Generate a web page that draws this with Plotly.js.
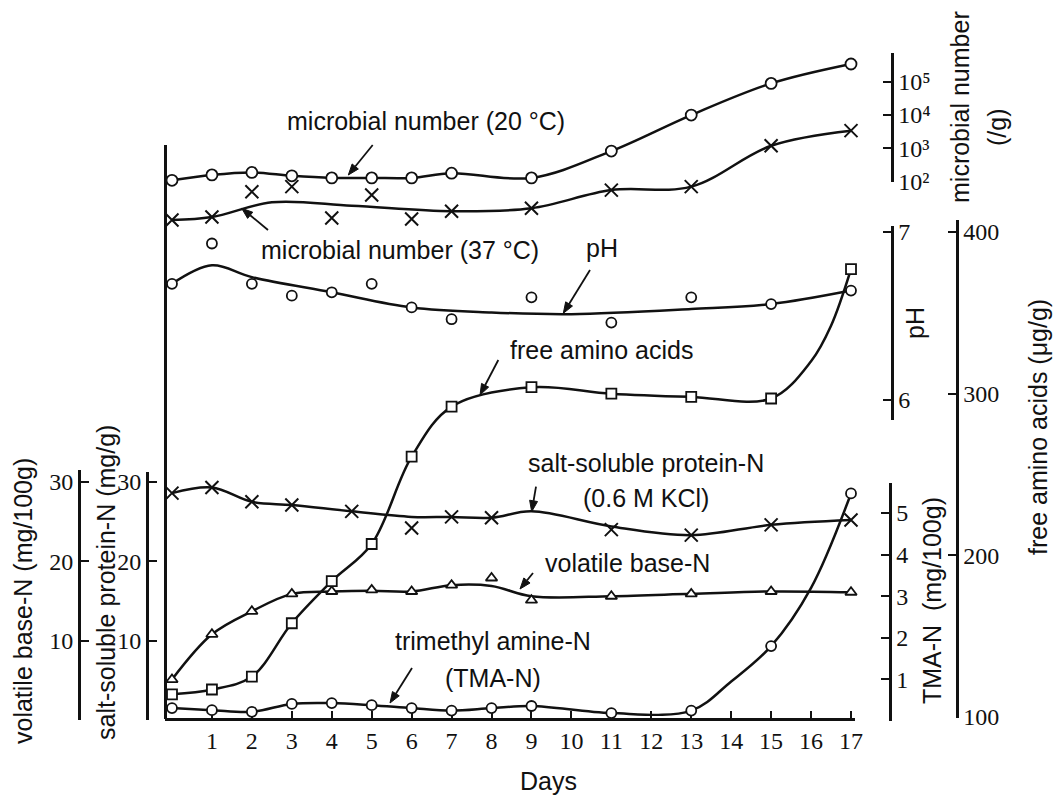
<!DOCTYPE html>
<html><head><meta charset="utf-8">
<script src="https://cdn.plot.ly/plotly-3.0.1.min.js"></script>
<style>html,body{margin:0;padding:0;background:#fff}</style>
</head><body>
<div id="chart" style="width:1056px;height:800px"></div>
<script>
// ---------------- data ----------------
const dayTicks = [1,2,3,4,5,6,7,8,9,10,11,12,13,14,15,16,17];

const mic20Days   = [0,1,2,3,4,5,6,7,9,11,13,15,17];
const mic20Values = [110,160,190,150,130,130,130,180,130,830,10000,89000,340000];

const mic37Days   = [0,1,2,3,4,5,6,7,9,11,13,15,17];
const mic37Values = [7.1,8.7,50,71,8.1,40,7.6,13,16,56,71,1200,3400];
const mic37CurveDays   = [0,1,2.5,4.5,7,9,11,13,15,17];
const mic37CurveValues = [7.1,8.7,24,19,13,16,56,71,1200,3400];
const micTickVals = [100,1000,10000,100000];
const micTickText = ['10\u00b2','10\u00b3','10\u2074','10\u2075'];

const phDays   = [0,1,2,3,4,5,6,7,9,11,13,15,17];
const phValues = [6.69,6.93,6.69,6.62,6.64,6.69,6.55,6.48,6.61,6.46,6.61,6.57,6.65];
const phCurveDays   = [0,1,2,4,6,8,10,13,15,17];
const phCurveValues = [6.69,6.80,6.73,6.64,6.55,6.52,6.51,6.54,6.57,6.65];
const phTickVals = [6,7];

const faaDays   = [0,1,2,3,4,5,6,7,9,11,13,15,17];
const faaValues = [114,117,125,158,184,207,261,292,304,300,298,297,377];
const faaCurveDays   = [0,1,2,3,4,5,6,7,9,11,13,15,16,16.5,17];
const faaCurveValues = [114,117,125,158,184,207,261,292,304,300,298,297,320,342,377];
const faaTickVals = [100,200,300,400];

const sspDays   = [0,1,2,3,4.5,6,7,8,11,13,15,17];
const sspValues = [28.6,29.3,27.5,27.1,26.3,24.2,25.6,25.5,24.0,23.3,24.6,25.2];
const sspCurveDays   = [0,1,2,3,4.5,6,7,8,9,11,13,15,17];
const sspCurveValues = [28.6,29.3,27.5,27.1,26.3,25.6,25.6,25.5,26.3,24.4,23.3,24.6,25.2];

const vbnDays   = [0,1,2,3,4,5,6,7,8,9,11,13,15,17];
const vbnValues = [5.1,10.8,13.7,15.9,16.2,16.4,16.2,17.0,17.9,15.1,15.6,15.9,16.2,16.1];
const vbnCurveDays   = [0,1,2,3,4,5,6,7,8,9,11,13,15,17];
const vbnCurveValues = [5.1,10.8,13.7,15.9,16.2,16.3,16.2,17.0,16.9,15.6,15.6,15.9,16.2,16.1];
const nTickVals = [10,20,30];
const nMinorTicks = [0];

const tmaDays   = [0,1,2,3,4,5,6,7,8,9,11,13,15,17];
const tmaValues = [0.31,0.26,0.22,0.41,0.43,0.38,0.31,0.25,0.31,0.36,0.19,0.25,1.80,5.47];
const tmaCurveDays   = [0,1,2,3,4,5,6,7,8,9,11,13,14,15,16,17];
const tmaCurveValues = [0.31,0.26,0.22,0.41,0.43,0.38,0.31,0.25,0.31,0.36,0.19,0.25,0.95,1.80,3.2,5.47];
const tmaTickVals = [1,2,3,4,5];
const tmaMinorTicks = [0];

// ---------------- layout helpers ----------------
const W = 1056, H = 800;
const SANS = 'Liberation Sans, Arial, sans-serif';
const SERIF = 'Liberation Serif, DejaVu Serif, Times New Roman, serif';
const INK = '#111';
const fx = p => p / W;
const fy = p => 1 - p / H;
// value at pixel row p for an axis calibrated by (v1 at p1), (v2 at p2)
const cal = (v1, p1, v2, p2) => p => v1 + (p - p1) * (v2 - v1) / (p2 - p1);
const calN   = cal(0, 720, 30, 482);
const calTMA = cal(0, 721, 5, 513);
const calFAA = cal(100, 717, 400, 232);
const calPH  = cal(6, 400, 7, 231.7);
const calMIC = cal(2, 181.7, 5, 81.7);    // log10 units
const fullRange = f => [f(H), f(0)];
const partRange = (f, top, bottom) => [f(bottom), f(top)];
const dom = (top, bottom) => [fy(bottom), fy(top)];

const hidden = (range, type) => Object.assign({
  domain: [0, 1], range: range, visible: false, anchor: 'free', position: 0,
  showgrid: false, zeroline: false, fixedrange: true
}, type ? {type: type} : {});

function decor(top, bottom, range, x, side, extra) {
  return Object.assign({
    domain: dom(top, bottom), range: range, anchor: 'free', position: fx(x), side: side,
    showline: true, linecolor: INK, linewidth: 2.5, showgrid: false, zeroline: false,
    ticks: 'inside', ticklen: 8, tickwidth: 2, tickcolor: INK, tickmode: 'array',
    tickfont: {family: SERIF, size: 24, color: INK}, fixedrange: true
  }, extra || {});
}
const minorTicks = vals => ({tickmode: 'array', tickvals: vals, ticks: 'inside', ticklen: 8, tickwidth: 2, tickcolor: INK, showgrid: false});

// ---------------- traces ----------------
function curve(xs, ys, yaxis) {
  return {x: xs, y: ys, yaxis: yaxis, mode: 'lines', hoverinfo: 'skip', showlegend: false,
          line: {shape: 'spline', smoothing: 1, color: INK, width: 2.5}};
}
function points(xs, ys, yaxis, symbol, size) {
  const open = symbol.indexOf('x') === 0;
  return {x: xs, y: ys, yaxis: yaxis, mode: 'markers', cliponaxis: false, showlegend: false,
          marker: {symbol: symbol, size: size, color: open ? INK : '#fff',
                   line: {color: INK, width: open ? 2 : 1.8}}};
}
const dummy = ya => ({x: [null], y: [null], yaxis: ya, mode: 'markers', hoverinfo: 'skip', showlegend: false});

const data = [
  curve(mic20Days, mic20Values, 'y5'),
  curve(mic37CurveDays, mic37CurveValues, 'y5'),
  curve(phCurveDays, phCurveValues, 'y4'),
  curve(faaCurveDays, faaCurveValues, 'y3'),
  curve(sspCurveDays, sspCurveValues, 'y'),
  curve(vbnCurveDays, vbnCurveValues, 'y'),
  curve(tmaCurveDays, tmaCurveValues, 'y2'),
  points(mic20Days, mic20Values, 'y5', 'circle', 11),
  points(mic37Days, mic37Values, 'y5', 'x-thin-open', 13),
  points(phDays, phValues, 'y4', 'circle', 10),
  points(faaDays, faaValues, 'y3', 'square', 10),
  points(sspDays, sspValues, 'y', 'x-thin-open', 13),
  points(vbnDays, vbnValues, 'y', 'triangle-up', 10),
  points(tmaDays, tmaValues, 'y2', 'circle', 10),
  dummy('y6'), dummy('y7'), dummy('y8'), dummy('y9'), dummy('y10'), dummy('y11'), dummy('y12')
];

// ---------------- annotations & pointer arrows ----------------
function label(text, x, y, angle) {
  return {text: text, xref: 'paper', yref: 'paper', x: fx(x), y: fy(y), xanchor: 'center', yanchor: 'middle',
          showarrow: false, borderpad: 0, textangle: angle || 0, font: {family: SANS, size: 25, color: INK}};
}
function arrow(tx, ty, hx, hy) {
  const dx = hx - tx, dy = hy - ty, L = Math.hypot(dx, dy), ux = dx / L, uy = dy / L;
  const hl = 11, hw = 4;
  const bx = hx - ux * hl, by = hy - uy * hl;
  const p1 = [bx - uy * hw, by + ux * hw], p2 = [bx + uy * hw, by - ux * hw];
  return [
    {type: 'line', xref: 'paper', yref: 'paper', x0: fx(tx), y0: fy(ty), x1: fx(bx), y1: fy(by),
     line: {color: INK, width: 1.8}},
    {type: 'path', xref: 'paper', yref: 'paper', fillcolor: INK, line: {color: INK, width: 1},
     path: `M ${fx(hx)} ${fy(hy)} L ${fx(p1[0])} ${fy(p1[1])} L ${fx(p2[0])} ${fy(p2[1])} Z`}
  ];
}

const annotations = [
  label('microbial number (20 °C)', 426, 121),
  label('microbial number (37 °C)', 400, 250),
  label('pH', 602, 248),
  label('free amino acids', 601, 350),
  label('salt-soluble protein-N', 646, 463),
  label('(0.6 M KCl)', 646, 498),
  label('volatile base-N', 627, 563),
  label('trimethyl amine-N', 493, 641),
  label('(TMA-N)', 493, 678),
  label('Days', 548, 781),
  label('volatile base-N (mg/100g)', 23, 601, -90),
  label('salt-soluble protein-N (mg/g)', 106, 583, -90),
  label('microbial number', 960, 107, -90),
  label('(/g)', 997, 127, -90),
  label('pH', 915, 323, -90),
  label('free amino acids (\u03bcg/g)', 1038, 427, -90),
  label('TMA-N\u00a0 (mg/100g)', 932, 601, -90)
];
const shapes = [].concat(
  arrow(372.7, 145, 348.3, 175),
  arrow(268, 230, 241.7, 208.3),
  arrow(590, 270, 563.3, 313.3),
  arrow(498.3, 360, 480, 395),
  arrow(536, 486.7, 531.7, 511.7),
  arrow(533, 573, 520, 589),
  arrow(412, 668, 390, 703)
);

const layout = {
  width: W, height: H, margin: {l: 0, r: 0, t: 0, b: 0},
  paper_bgcolor: '#fff', plot_bgcolor: 'rgba(0,0,0,0)', showlegend: false,
  xaxis: {
    domain: [fx(165), fx(855)], range: [-0.175, 17.1], anchor: 'free', position: fy(719),
    showline: true, linecolor: INK, linewidth: 2.5, showgrid: false, zeroline: false,
    ticks: 'inside', ticklen: 7, tickwidth: 2, tickcolor: INK,
    tickmode: 'array', tickvals: dayTicks,
    tickfont: {family: SERIF, size: 24, color: INK},
    fixedrange: true
  },
  // hidden data axes
  yaxis:  hidden(fullRange(calN)),
  yaxis2: hidden(fullRange(calTMA)),
  yaxis3: hidden(fullRange(calFAA)),
  yaxis4: hidden(fullRange(calPH)),
  yaxis5: hidden(fullRange(calMIC), 'log'),
  // drawn axes
  yaxis6:  decor(145, 719, [0, 1], 165, 'left', {ticks: '', showticklabels: false}),
  yaxis7:  decor(470, 720, partRange(calN, 470, 720), 79, 'left', {tickvals: nTickVals, minor: minorTicks(nMinorTicks)}),
  yaxis8:  decor(472, 720, partRange(calN, 472, 720), 147, 'left', {tickvals: nTickVals, minor: minorTicks(nMinorTicks)}),
  yaxis9:  decor(483, 721, partRange(calTMA, 483, 721), 890, 'right', {tickvals: tmaTickVals, minor: minorTicks(tmaMinorTicks)}),
  yaxis10: decor(226, 420, partRange(calPH, 226, 420), 892, 'right', {tickvals: phTickVals}),
  yaxis11: decor(220, 718, partRange(calFAA, 220, 718), 957, 'right', {tickvals: faaTickVals}),
  yaxis12: decor(53, 182, partRange(calMIC, 53, 182), 892, 'right', {type: 'log', tickvals: micTickVals, ticktext: micTickText}),
  annotations: annotations,
  shapes: shapes
};

Plotly.newPlot('chart', data, layout, {displayModeBar: false, staticPlot: true});
</script>
</body></html>
